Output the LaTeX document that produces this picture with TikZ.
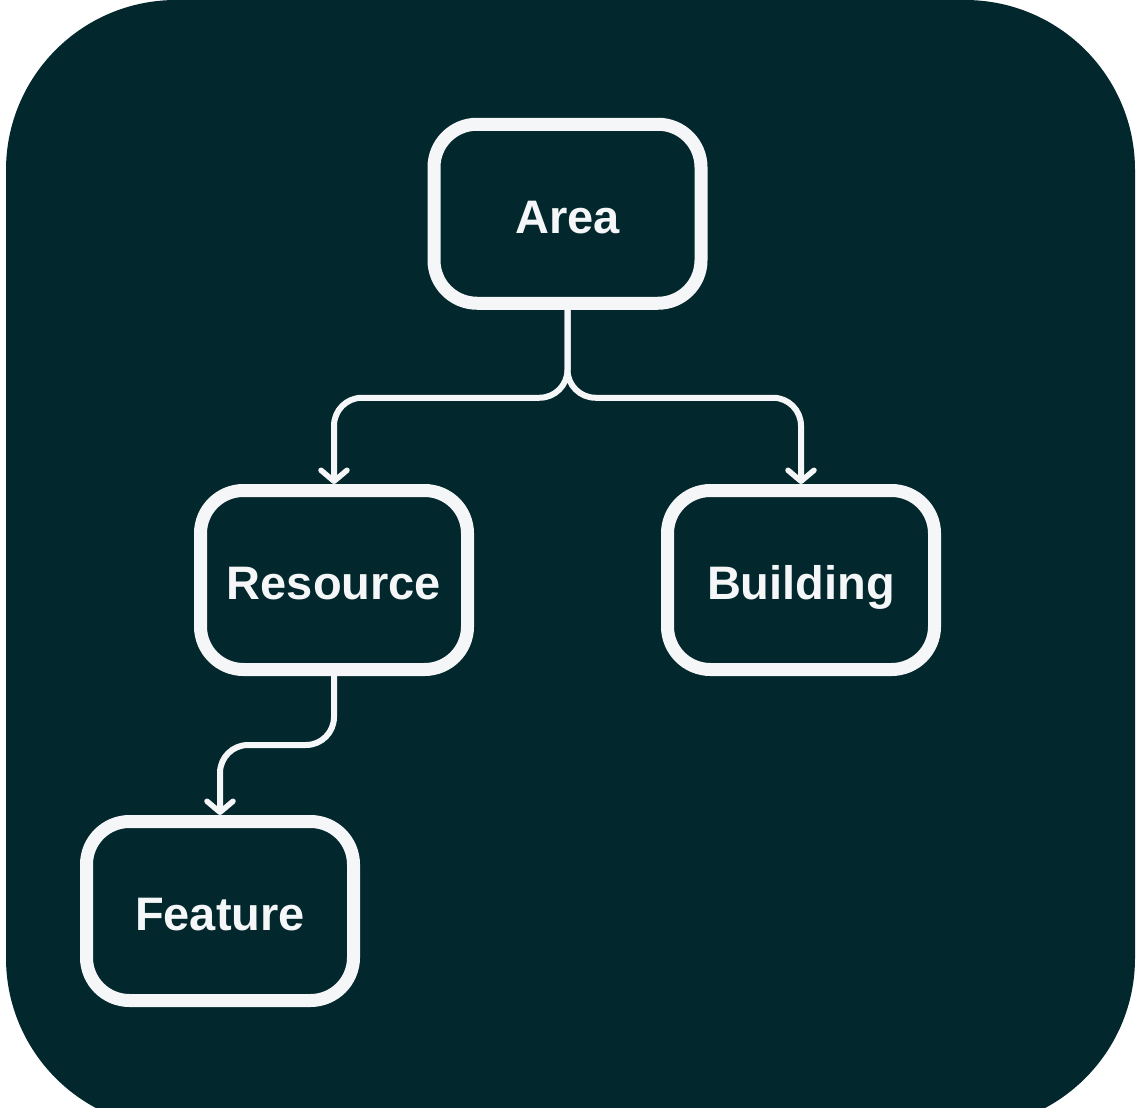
\documentclass[tikz,border=0pt]{standalone}
\usepackage{fontspec}
\setmainfont{Liberation Sans}
\usetikzlibrary{arrows.meta}
\definecolor{bgteal}{HTML}{02272D}
\definecolor{fg}{HTML}{F5F6F8}
\tikzset{
  entity/.style={draw=fg, line width=13pt, rounded corners=43pt,
    minimum width=267pt, minimum height=179pt, text=fg,
    font=\fontsize{47}{50}\selectfont\bfseries, inner sep=0pt,
    text height=39pt, text depth=0pt},
  conn/.style={draw=fg, line width=6pt, rounded corners=28pt,
    -{Straight Barb[length=11pt,width=26pt,line width=5.5pt,round]}}
}
\begin{document}
\begin{tikzpicture}[x=1pt,y=-1pt]
\useasboundingbox (0,0) rectangle (1143,1108);
\fill[white] (0,0) rectangle (1143,1108);
\begin{scope}
\clip (0,0) rectangle (1143,1108);
\fill[bgteal, rounded corners=170pt] (6,0) rectangle (1135,1128);
\end{scope}
\node[entity] (area) at (567.5,213.75) {Area};
\node[entity] (resource) at (334,580) {Resource};
\node[entity] (building) at (801,580) {Building};
\node[entity] (feature) at (220,911) {Feature};
\draw[conn] (area.south) -- ++(0,88) -| (resource.north);
\draw[conn] (area.south) -- ++(0,88) -| (building.north);
\draw[conn] (resource.south) -- ++(0,69) -| (feature.north);
\end{tikzpicture}
\end{document}
